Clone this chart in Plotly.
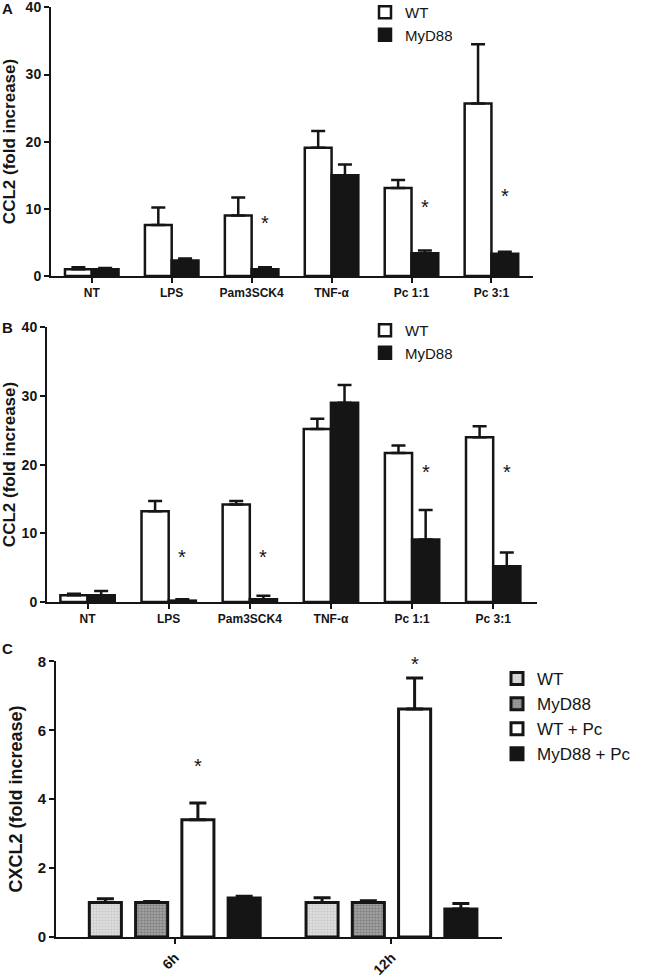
import plotly.graph_objects as go

# ---------------- data ----------------
categories = ["NT", "LPS", "Pam3SCK4", "TNF-α", "Pc 1:1", "Pc 3:1"]

a_wt = [1.0, 7.6, 9.0, 19.1, 13.1, 25.7]
a_wt_err = [0.3, 2.6, 2.7, 2.5, 1.2, 8.8]
a_myd = [1.0, 2.3, 1.0, 15.0, 3.4, 3.3]
a_myd_err = [0.2, 0.3, 0.3, 1.6, 0.4, 0.3]
a_star_cats = ["Pam3SCK4", "Pc 1:1", "Pc 3:1"]
a_star_y = [7.9, 10.3, 11.9]

b_wt = [1.0, 13.2, 14.2, 25.2, 21.7, 24.0]
b_wt_err = [0.2, 1.5, 0.5, 1.5, 1.1, 1.6]
b_myd = [1.0, 0.2, 0.4, 29.0, 9.1, 5.2]
b_myd_err = [0.6, 0.2, 0.5, 2.6, 4.3, 2.0]
b_star_cats = ["LPS", "Pam3SCK4", "Pc 1:1", "Pc 3:1"]
b_star_y = [6.5, 6.5, 19.0, 18.9]

c_times = ["6h", "12h"]
c_series = ["WT", "MyD88", "WT + Pc", "MyD88 + Pc"]
c_values = [[1.0, 1.0], [1.0, 1.0], [3.4, 6.62], [1.13, 0.81]]
c_errors = [[0.11, 0.14], [0.03, 0.05], [0.49, 0.9], [0.05, 0.16]]
c_star_series = "WT + Pc"
c_star_y = [4.95, 8.3]

ab_ticks = [0, 10, 20, 30, 40]
c_ticks = [0, 2, 4, 6, 8]
ab_range = [0, 40.05]
c_range = [0, 8.01]

# ---------------- style ----------------
FONT = "Arial, Liberation Sans, sans-serif"
BLACK = "#151515"
W, H = 650, 978

fig = go.Figure()

ab_width = 0.335
ab_offsets = {"WT": -ab_width, "MyD88": 0.0}
ab_fill = {"WT": "white", "MyD88": BLACK}

def add_ab(vals_wt, err_wt, vals_myd, err_myd, xa, ya, legend):
    for name, vals, errs in (("WT", vals_wt, err_wt), ("MyD88", vals_myd, err_myd)):
        fig.add_trace(go.Bar(
            x=categories, y=vals, name=name,
            xaxis=xa, yaxis=ya, legend=legend,
            width=ab_width, offset=ab_offsets[name],
            marker=dict(color=ab_fill[name], line=dict(color=BLACK, width=2.5)),
            error_y=dict(type="data", array=errs, arrayminus=[0] * len(errs),
                         symmetric=False, color=BLACK, thickness=2.5, width=7),
        ))

add_ab(a_wt, a_wt_err, a_myd, a_myd_err, "x", "y", "legend")
add_ab(b_wt, b_wt_err, b_myd, b_myd_err, "x2", "y2", "legend2")

c_width = 0.148
c_pitch = 0.2135
c_fill = {
    "WT": dict(color="#d6d6d6", pattern=dict(shape=".", fgcolor="#b0b0b0", bgcolor="#dedede", size=3, solidity=0.4)),
    "MyD88": dict(color="#8a8a8a", pattern=dict(shape=".", fgcolor="#5a5a5a", bgcolor="#a8a8a8", size=3, solidity=0.5)),
    "WT + Pc": dict(color="white"),
    "MyD88 + Pc": dict(color=BLACK),
}
for i, name in enumerate(c_series):
    center = (i - 1.5) * c_pitch
    m = dict(c_fill[name])
    m["line"] = dict(color=BLACK, width=3)
    fig.add_trace(go.Bar(
        x=c_times, y=c_values[i], name=name,
        xaxis="x3", yaxis="y3", legend="legend3",
        width=c_width, offset=center - c_width / 2,
        marker=m,
        error_y=dict(type="data", array=c_errors[i], arrayminus=[0, 0],
                     symmetric=False, color=BLACK, thickness=3, width=8.5),
    ))

# ---------------- axes ----------------
def px_x(a, b):
    return [a / W, b / W]

def px_y(top, bottom):
    return [1 - bottom / H, 1 - top / H]

axis_common = dict(showline=True, linecolor=BLACK, linewidth=2, ticks="outside",
                   ticklen=5, tickwidth=2, tickcolor=BLACK, showgrid=False,
                   zeroline=False, mirror=False, ticklabeloverflow="allow")

fig.update_layout(
    width=W, height=H, barmode="overlay",
    paper_bgcolor="white", plot_bgcolor="white",
    margin=dict(l=0, r=0, t=0, b=0, autoexpand=False),
    font=dict(family=FONT, color=BLACK),
    xaxis=dict(domain=px_x(51, 533), anchor="y", range=[-0.51, 5.52],
               tickfont=dict(size=12, weight="bold"), **axis_common),
    yaxis=dict(domain=px_y(7, 276), anchor="x", range=ab_range, tickvals=ab_ticks,
               tickfont=dict(size=14, weight="bold"),
               title=dict(text="CCL2 (fold increase)", font=dict(size=17, weight="bold"), standoff=6),
               **axis_common),
    xaxis2=dict(domain=px_x(47, 537), anchor="y2", range=[-0.5, 5.54],
                tickfont=dict(size=12, weight="bold"), **axis_common),
    yaxis2=dict(domain=px_y(327, 602), anchor="x2", range=ab_range, tickvals=ab_ticks,
                tickfont=dict(size=14, weight="bold"),
                title=dict(text="CCL2 (fold increase)", font=dict(size=17, weight="bold"), standoff=6),
                **axis_common),
    xaxis3=dict(domain=px_x(56, 502), anchor="y3", range=[-0.548, 1.51],
                tickangle=-45, tickfont=dict(size=14, weight="bold"), **axis_common),
    yaxis3=dict(domain=px_y(661, 937), anchor="x3", range=c_range, tickvals=c_ticks,
                tickfont=dict(size=15, weight="bold"),
                title=dict(text="CXCL2 (fold increase)", font=dict(size=18, weight="bold"), standoff=10),
                **axis_common),
    legend=dict(x=365 / W, y=1 + 4 / H, xanchor="left", yanchor="top",
                font=dict(size=15), bgcolor="rgba(0,0,0,0)", itemwidth=30),
    legend2=dict(x=365 / W, y=1 - 314 / H, xanchor="left", yanchor="top",
                 font=dict(size=15), bgcolor="rgba(0,0,0,0)", itemwidth=30),
    legend3=dict(x=497 / W, y=1 - 661 / H, xanchor="left", yanchor="top",
                 font=dict(size=17), bgcolor="rgba(0,0,0,0)", itemwidth=30),
    showlegend=True,
)

# ---------------- annotations ----------------
STAR = dict(size=20)
ann = []
for cat, yv in zip(a_star_cats, a_star_y):
    ann.append(dict(x=categories.index(cat) + ab_width / 2, y=yv, xref="x", yref="y",
                    text="*", showarrow=False, font=STAR))
for cat, yv in zip(b_star_cats, b_star_y):
    ann.append(dict(x=categories.index(cat) + ab_width / 2, y=yv, xref="x2", yref="y2",
                    text="*", showarrow=False, font=STAR))
si = c_series.index(c_star_series)
for j, yv in enumerate(c_star_y):
    # star may sit above the axis top, so place it in the y3 domain frame
    ann.append(dict(x=j + (si - 1.5) * c_pitch, y=yv / c_range[1], xref="x3", yref="y3 domain",
                    text="*", showarrow=False, font=STAR))

for letter, yy in (("A", 8), ("B", 327), ("C", 648)):
    ann.append(dict(x=0, y=1 - yy / H, xref="paper", yref="paper", xanchor="left",
                    yanchor="middle", text=letter, showarrow=False,
                    font=dict(size=15, weight="bold")))
fig.update_layout(annotations=ann)

fig.write_html(
    "out.html",
    config={"displayModeBar": False},
    post_script="document.body.style.margin='0';document.documentElement.style.overflow='hidden';",
)
